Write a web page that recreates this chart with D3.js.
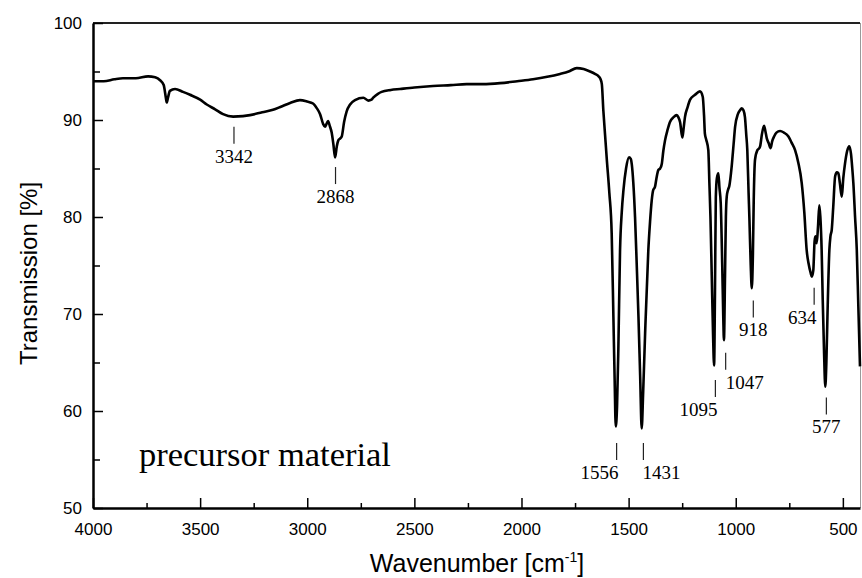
<!DOCTYPE html>
<html>
<head>
<meta charset="utf-8">
<script src="https://cdn.jsdelivr.net/npm/d3@7/dist/d3.min.js"></script>
<style>
  html, body { margin: 0; padding: 0; background: #fff; }
  svg { display: block; }
</style>
</head>
<body>
<svg id="chart" width="862" height="578"></svg>
<script>
// ---- Data ----
const wavenumbers = [4000,3950,3900,3860,3800,3743,3710,3687,3670,3660,3656,3650,3641,3617,3580,3547,3500,3469,3430,3393,3346,3300,3267,3210,3160,3120,3080,3034,3000,2973,2955,2940,2926,2917,2910,2903,2895,2886,2878,2870,2862,2855,2846,2839,2828,2816,2800,2777,2738,2715,2700,2692,2670,2653,2610,2567,2500,2413,2330,2256,2180,2100,2020,1946,1880,1820,1780,1742,1710,1680,1657,1640,1633,1625,1618,1610,1602,1590,1579,1571,1565,1560,1554,1548,1540,1532,1524,1512,1498,1490,1485,1478,1470,1462,1454,1446,1439,1432,1423,1408,1400,1392,1385,1377,1370,1361,1353,1345,1338,1330,1318,1307,1290,1275,1268,1260,1249,1243,1237,1225,1213,1190,1167,1154,1148,1144,1138,1128,1123,1118,1112,1106,1101,1097,1093,1088,1081,1076,1070,1063,1058,1055,1050,1046,1042,1036,1030,1019,1010,1003,990,980,972,964,957,951,946,940,936,930,925,920,916,910,899,890,886,878,868,862,855,846,837,830,821,810,793,775,754,740,723,708,692,680,669,660,650,645,638,632,628,622,616,610,605,599,594,588,582,577,572,563,558,552,545,536,528,521,514,505,498,490,480,470,462,456,451,443,435,428,420];
const transmission = [94.0,94.0,94.2,94.3,94.3,94.5,94.4,94.1,93.6,92.3,91.8,92.3,93.0,93.2,92.9,92.6,92.1,91.6,91.1,90.6,90.35,90.4,90.5,90.8,91.05,91.4,91.75,92.05,91.9,91.7,91.2,90.6,89.6,89.3,89.6,89.9,89.4,88.7,87.5,86.15,87.3,87.9,88.1,88.3,89.8,90.9,91.6,92.06,92.3,92.0,92.1,92.3,92.7,92.9,93.1,93.2,93.35,93.5,93.6,93.7,93.7,93.8,94.0,94.2,94.45,94.75,95.0,95.35,95.25,95.0,94.75,94.5,94.3,93.7,91.0,88.5,86.0,82.5,78.3,69.7,63.0,58.4,60.5,66.3,76.6,80.5,82.8,85.0,86.15,86.0,85.4,83.5,80.0,75.0,69.7,63.5,58.2,62.0,68.0,76.6,79.5,81.75,82.8,83.1,84.0,84.85,85.0,85.5,86.8,87.9,89.0,89.8,90.3,90.5,90.3,89.8,88.2,89.2,90.3,91.3,92.1,92.6,92.95,92.4,90.5,88.6,88.0,86.9,83.5,80.0,74.0,68.0,64.7,72.0,82.0,84.0,84.5,83.0,81.4,75.0,69.5,67.3,74.0,80.0,82.1,82.8,83.2,85.2,87.5,89.3,90.6,91.0,91.2,91.0,90.3,88.5,86.9,82.5,79.7,75.0,72.65,76.0,81.75,85.9,86.9,87.1,87.3,88.5,89.4,88.9,88.1,87.6,87.1,87.8,88.3,88.7,88.87,88.7,88.3,87.7,86.9,85.6,83.5,80.5,76.6,75.2,74.2,73.85,74.5,77.5,78.0,77.3,79.0,81.2,80.0,76.6,71.5,66.3,62.5,65.0,69.7,76.6,78.0,78.66,81.0,84.2,84.6,84.5,83.5,82.1,84.0,85.5,86.8,87.3,86.5,85.0,83.5,80.0,76.6,71.0,64.6];

// Peak annotations: label, wavenumber and the transmission where the marker starts
const peakLabels = ["3342","2868","1556","1431","1095","1047","918","634","577"];
const peakWavenumbers = [3342,2868,1556,1431,1095,1047,918,634,577];
const peakMarkT = [89.3,85.15,56.7,56.7,63.2,66.0,71.4,72.7,61.4];

// Axis ticks
const xMajorTicks = [4000,3500,3000,2500,2000,1500,1000,500];
const xMinorTicks = [3750,3250,2750,2250,1750,1250,750];
const yMajorTicks = [50,60,70,80,90,100];
const yMinorTicks = [55,65,75,85,95];

const sampleLabel = "precursor material";

// ---- Layout ----
const L = 93, R = 860, T = 23, B = 508;
const svg = d3.select("#chart");
const x = d3.scaleLinear().domain([4000, 420]).range([L, R]);
const y = d3.scaleLinear().domain([50, 100]).range([B, T]);

const sans = "Arial, 'Liberation Sans', sans-serif";
const serif = "'Times New Roman', 'Liberation Serif', serif";
const fmt = d3.format("d");

// frame (top and right)
svg.append("line").attr("x1", L).attr("x2", R).attr("y1", T).attr("y2", T)
  .attr("stroke", "#222").attr("stroke-width", 2);
svg.append("line").attr("x1", R + 0.5).attr("x2", R + 0.5).attr("y1", T).attr("y2", B)
  .attr("stroke", "#999").attr("stroke-width", 1);

// X axis
const xAxis = d3.axisBottom(x).tickValues(xMajorTicks).tickFormat(fmt).tickSizeInner(-10).tickSizeOuter(0).tickPadding(15);
const gx = svg.append("g").attr("transform", `translate(0,${B})`).call(xAxis);
gx.select(".domain").attr("stroke", "#000").attr("stroke-width", 2.5);
gx.selectAll(".tick line").attr("stroke", "#000").attr("stroke-width", 1.5);
gx.selectAll(".tick text").attr("font-family", sans).attr("font-size", 17).attr("fill", "#000");
const xMinor = d3.axisBottom(x).tickValues(xMinorTicks).tickSizeInner(-5).tickSizeOuter(0).tickFormat("");
const gxm = svg.append("g").attr("transform", `translate(0,${B})`).call(xMinor);
gxm.select(".domain").remove();
gxm.selectAll(".tick line").attr("stroke", "#000").attr("stroke-width", 1.5);

// Y axis
const yAxis = d3.axisLeft(y).tickValues(yMajorTicks).tickFormat(fmt).tickSizeInner(-10).tickSizeOuter(0).tickPadding(11);
const gy = svg.append("g").attr("transform", `translate(${L},0)`).call(yAxis);
gy.select(".domain").attr("stroke", "#000").attr("stroke-width", 2.5);
gy.selectAll(".tick line").attr("stroke", "#000").attr("stroke-width", 1.5);
gy.selectAll(".tick text").attr("font-family", sans).attr("font-size", 17).attr("fill", "#000");
const yMinor = d3.axisLeft(y).tickValues(yMinorTicks).tickSizeInner(-7).tickSizeOuter(0).tickFormat("");
const gym = svg.append("g").attr("transform", `translate(${L},0)`).call(yMinor);
gym.select(".domain").remove();
gym.selectAll(".tick line").attr("stroke", "#000").attr("stroke-width", 1.5);

// Axis titles
const xt = svg.append("text").attr("x", 477).attr("y", 572).attr("text-anchor", "middle")
  .attr("font-family", sans).attr("font-size", 25).attr("fill", "#000");
xt.append("tspan").text("Wavenumber [cm");
xt.append("tspan").attr("font-size", 14).attr("dy", -10).text("-1");
xt.append("tspan").attr("dy", 10).text("]");

svg.append("text").attr("transform", `translate(37,${(T + B) / 2 + 8}) rotate(-90)`)
  .attr("text-anchor", "middle").attr("font-family", sans).attr("font-size", 24).attr("fill", "#000")
  .text("Transmission [%]");

// Spectrum
const data = wavenumbers.map((w, i) => ({ w, t: transmission[i] }));
const line = d3.line().x(d => x(d.w)).y(d => y(d.t)).curve(d3.curveMonotoneX);
svg.append("path").datum(data).attr("d", line)
  .attr("fill", "none").attr("stroke", "#000").attr("stroke-width", 2.6).attr("stroke-linejoin", "round");

// Peak annotations
const labelDx = { "1556": -17, "1431": 18, "1095": -17, "1047": 19, "634": -12 };
const peaks = peakLabels.map((lab, i) => ({ lab, w: peakWavenumbers[i], t: peakMarkT[i] }));
const pg = svg.append("g");
peaks.forEach(p => {
  const px = x(p.w), py = y(p.t);
  pg.append("line").attr("x1", px).attr("x2", px).attr("y1", py).attr("y2", py + 17)
    .attr("stroke", "#222").attr("stroke-width", 1.2);
  pg.append("text").attr("x", px + (labelDx[p.lab] || 0)).attr("y", py + 36)
    .attr("text-anchor", "middle").attr("font-family", serif).attr("font-size", 19).attr("fill", "#000")
    .text(p.lab);
});

// Sample label
svg.append("text").attr("x", 139).attr("y", 466).attr("font-family", serif)
  .attr("font-size", 34.5).attr("fill", "#000").text(sampleLabel);
</script>
</body>
</html>
